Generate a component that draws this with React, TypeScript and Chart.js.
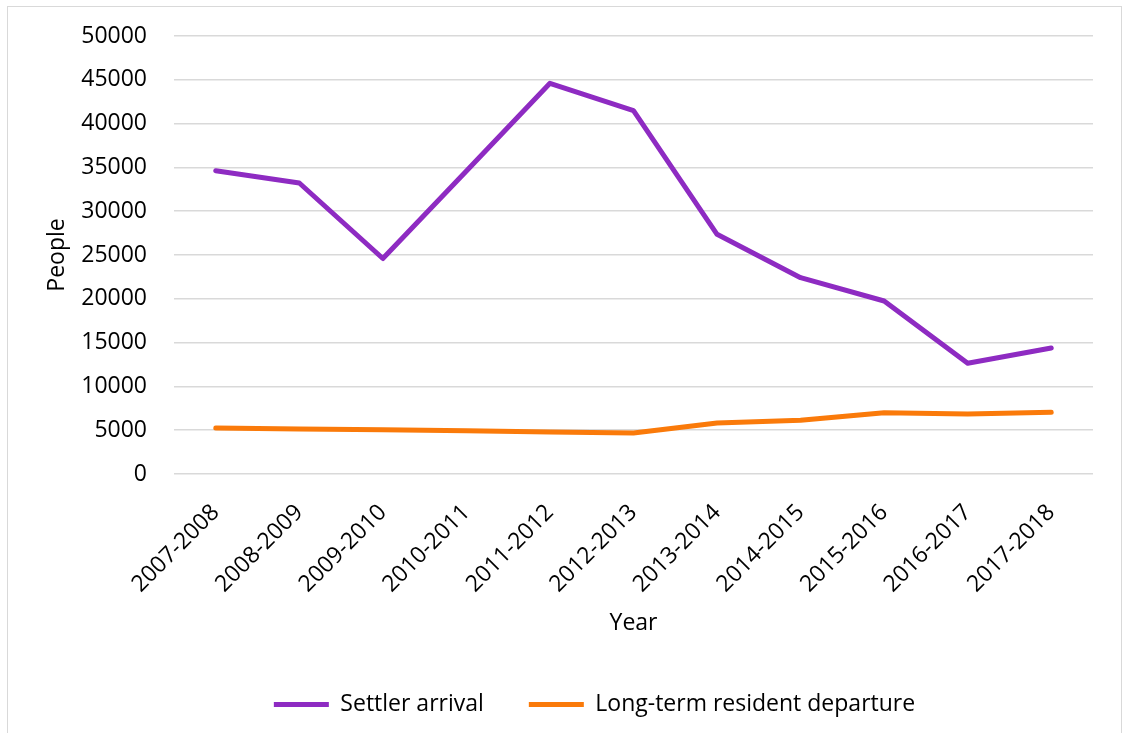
import React, { useEffect, useRef } from "react";
import { Chart, registerables } from "chart.js";

Chart.register(...registerables);

const categories = [
  "2007-2008",
  "2008-2009",
  "2009-2010",
  "2010-2011",
  "2011-2012",
  "2012-2013",
  "2013-2014",
  "2014-2015",
  "2015-2016",
  "2016-2017",
  "2017-2018",
];

const settlerArrival = [34620, 33220, 24600, 34600, 44600, 41470, 27360, 22410, 19750, 12640, 14380];
const longTermResidentDeparture = [5250, 5140, 5060, 4950, 4790, 4680, 5820, 6130, 7000, 6850, 7040];

const yMin = 0;
const yMax = 50000;
const yStep = 5000;

const FONT = "'Open Sans', 'Noto Sans', sans-serif";
const FS = 23;

export default function App() {
  const canvasRef = useRef<HTMLCanvasElement | null>(null);

  useEffect(() => {
    if (!canvasRef.current) return;
    const legendShift = {
      id: "legendShift",
      afterLayout(chart: any) {
        if (chart.legend) {
          chart.legend.left += 48;
          chart.legend.right += 48;
        }
      },
    };
    const chart = new Chart(canvasRef.current, {
      type: "line",
      data: {
        labels: categories,
        datasets: [
          {
            label: "Settler arrival",
            data: settlerArrival,
            borderColor: "#8E2BC2",
            backgroundColor: "#8E2BC2",
            borderWidth: 5,
            pointRadius: 0,
            pointHoverRadius: 0,
            tension: 0,
            fill: false,
            borderCapStyle: "round",
            borderJoinStyle: "round",
          },
          {
            label: "Long-term resident departure",
            data: longTermResidentDeparture,
            borderColor: "#FA7A0A",
            backgroundColor: "#FA7A0A",
            borderWidth: 5,
            pointRadius: 0,
            pointHoverRadius: 0,
            tension: 0,
            fill: false,
            borderCapStyle: "round",
            borderJoinStyle: "round",
          },
        ],
      },
      options: {
        animation: false,
        responsive: true,
        maintainAspectRatio: false,
        layout: { padding: { top: 30, right: 30, bottom: 7, left: 0 } },
        plugins: {
          tooltip: { enabled: false },
          legend: {
            position: "bottom",
            labels: {
              usePointStyle: true,
              pointStyle: "line",
              pointStyleWidth: 55,
              padding: 45,
              color: "#000",
              font: { family: FONT, size: FS },
            },
          },
        },
        scales: {
          x: {
            type: "category",
            offset: true,
            grid: { display: false, drawTicks: false },
            border: { display: false },
            ticks: {
              color: "#000",
              font: { family: FONT, size: FS },
              minRotation: 45,
              maxRotation: 45,
              padding: 25,
              autoSkip: false,
            },
            title: {
              display: true,
              text: "Year",
              color: "#000",
              font: { family: FONT, size: FS },
              padding: { top: 0, bottom: 11 },
            },
            afterFit(scale: any) {
              scale.height = 174;
            },
          },
          y: {
            min: yMin,
            max: yMax,
            grid: {
              color: "#D9D9D9",
              lineWidth: 1.5,
              drawTicks: true,
              tickLength: 4.8,
              tickColor: "rgba(0,0,0,0)",
            },
            border: { display: false },
            ticks: {
              stepSize: yStep,
              color: "#000",
              font: { family: FONT, size: FS },
              padding: 22.2,
              callback: (value: any) => String(value),
            },
            title: {
              display: true,
              text: "People",
              color: "#000",
              font: { family: FONT, size: FS },
              padding: { top: 44, bottom: 0 },
            },
            afterFit(scale: any) {
              scale.width = 174;
            },
          },
        },
      },
      plugins: [legendShift],
    } as any);
    return () => chart.destroy();
  }, []);

  return (
    <>
      <div
        style={{
          position: "absolute",
          left: 7,
          top: 6,
          width: 1113,
          height: 726,
          border: "1px solid #D9D9D9",
          borderBottom: "none",
          boxSizing: "content-box",
        }}
      />
      <div style={{ position: "absolute", left: 0, top: 0, width: 1123, height: 733 }}>
        <canvas ref={canvasRef} />
      </div>
    </>
  );
}
